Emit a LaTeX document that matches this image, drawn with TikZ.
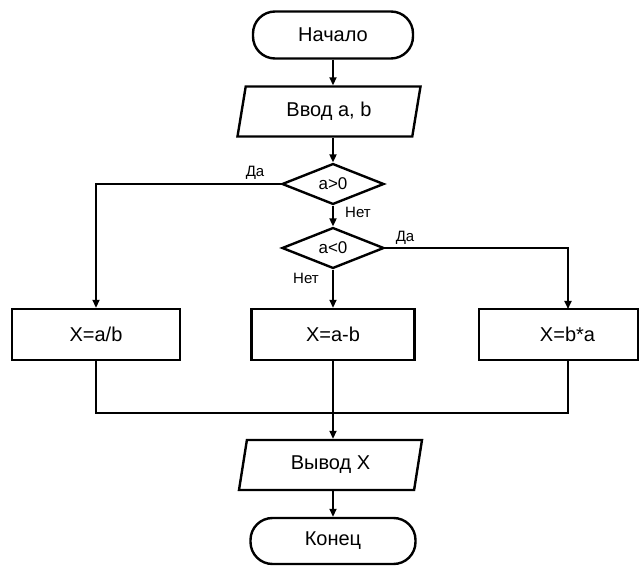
\documentclass[tikz,border=0pt]{standalone}
\usepackage{fontspec}
\setmainfont{Liberation Sans}
\usetikzlibrary{shapes.geometric,arrows.meta}
\begin{document}
\begin{tikzpicture}[x=1pt,y=-1pt,
  base/.style={draw, line width=2.4pt, font=\fontsize{20}{22}\selectfont, inner sep=0pt},
  term/.style={base, rectangle, rounded corners=22pt, minimum width=160pt, minimum height=47pt},
  io/.style={base, trapezium, trapezium left angle=66, trapezium right angle=114,
             trapezium stretches body, minimum width=183pt, minimum height=50pt},
  cond/.style={base, diamond, minimum width=102pt, minimum height=37pt, font=\fontsize{17}{19}\selectfont},
  proc/.style={base, rectangle, minimum height=51pt},
  conn/.style={line width=1.8pt, -{Triangle[length=8pt,width=7pt]}},
  wire/.style={line width=1.8pt},
  lbl/.style={font=\fontsize{15}{17}\selectfont, inner sep=1pt}
]
\useasboundingbox (0,0) rectangle (640,569);

\node[term] (start) at (333,35) {Начало};
\node[io] (in) at (329,111.5) {Ввод a, b};
\node[cond] (d1) at (333,184) {a>0};
\node[cond] (d2) at (333,248) {a<0};
\node[proc, minimum width=168pt] (b1) at (96,334.5) {X=a/b\hspace{16pt}};
\node[proc, minimum width=163pt] (b2) at (333,334.5) {X=a-b};
\node[proc, minimum width=159pt] (b3) at (558.5,334.5) {\hspace{18pt}X=b*a};
\node[io] (out) at (330.5,465) {Вывод X};
\node[term, minimum width=165pt, minimum height=46pt] (end) at (333,541) {Конец};

\coordinate (m) at (333,413);
\coordinate (b3in) at (568,309);

\draw[conn] (start) -- (start |- in.north);
\draw[conn] (in.south -| d1) -- (d1.north);
\draw[conn] (d1) -- (d2);
\draw[conn] (d1.west) -| (b1.north);
\draw[conn] (d2.east) -| (b3in);
\draw[conn] (d2) -- (b2);
\draw[wire] (b1.south) |- (m);
\draw[wire] (b3.south -| b3in) |- (m);
\draw[conn] (b2) -- (b2 |- out.north);
\draw[conn] (out.south -| end) -- (end);

\node[lbl] (l1) at (255,173) {Да};
\node[lbl] (l2) at (358,212) {Нет};
\node[lbl] (l3) at (405,238) {Да};
\node[lbl] (l4) at (306,278) {Нет};
\end{tikzpicture}
\end{document}
